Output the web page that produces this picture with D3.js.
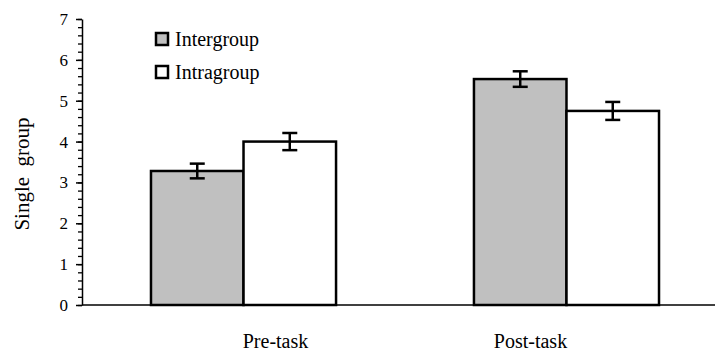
<!DOCTYPE html>
<html>
<head>
<meta charset="utf-8">
<script src="https://cdn.jsdelivr.net/npm/d3@7"></script>
<style>
  body { margin: 0; background: #fff; }
  svg text { font-family: "Liberation Serif", "Times New Roman", serif; fill: #000; }
</style>
</head>
<body>
<div id="chart"></div>
<script>
// data
const categories = ["Pre-task", "Post-task"];
const series = ["Intergroup", "Intragroup"];
const intergroup = [3.28, 5.53];
const intragroup = [4.0, 4.75];
const intergroupErr = [0.18, 0.19];
const intragroupErr = [0.21, 0.22];
const yTicks = [0, 1, 2, 3, 4, 5, 6, 7];

const seriesFill = {"Intergroup": "#c0c0c0", "Intragroup": "#ffffff"};

// set the dimensions
const width = 715, height = 353;
const margin = {top: 19, left: 82, bottom: 48};
const labelShift = [32, -36];   // category labels sit off centre in the original

const svg = d3.select("#chart")
  .append("svg")
    .attr("width", width)
    .attr("height", height);

const y = d3.scaleLinear()
  .domain([0, 7])
  .range([height - margin.bottom, margin.top]);

const x = d3.scaleBand()
  .domain(categories)
  .range([margin.left, 728])
  .paddingInner(0.427)
  .paddingOuter(0.2136);

const xSub = d3.scaleBand()
  .domain(series)
  .range([0, x.bandwidth()]);

const rows = [];
categories.forEach((c, i) => {
  rows.push({cat: c, s: "Intergroup", v: intergroup[i], e: intergroupErr[i]});
  rows.push({cat: c, s: "Intragroup", v: intragroup[i], e: intragroupErr[i]});
});

// bars
svg.selectAll(".bar")
  .data(rows)
  .join("rect")
    .attr("class", "bar")
    .attr("x", d => x(d.cat) + xSub(d.s))
    .attr("y", d => y(d.v))
    .attr("width", xSub.bandwidth())
    .attr("height", d => y(0) - y(d.v))
    .attr("fill", d => seriesFill[d.s])
    .attr("stroke", "#000")
    .attr("stroke-width", 2.5);

// error bars
const capW = 7.5;
const err = svg.selectAll(".err")
  .data(rows)
  .join("g")
    .attr("class", "err")
    .attr("transform", d => `translate(${x(d.cat) + xSub(d.s) + xSub.bandwidth() / 2},0)`)
    .attr("stroke", "#000")
    .attr("stroke-width", 2.5);
err.append("line")
  .attr("y1", d => y(d.v + d.e)).attr("y2", d => y(d.v - d.e));
err.append("line")
  .attr("x1", -capW).attr("x2", capW)
  .attr("y1", d => y(d.v + d.e)).attr("y2", d => y(d.v + d.e));
err.append("line")
  .attr("x1", -capW).attr("x2", capW)
  .attr("y1", d => y(d.v - d.e)).attr("y2", d => y(d.v - d.e));

// y axis: minor ticks then major ticks
const yMinor = d3.range(0, 7.001, 0.2);
svg.append("g")
  .attr("transform", `translate(${margin.left},0)`)
  .call(d3.axisLeft(y).tickValues(yMinor).tickSize(4).tickFormat(""))
  .call(g => g.select(".domain").remove())
  .selectAll("line").attr("stroke-width", 1.3);

const yAxis = svg.append("g")
  .attr("transform", `translate(${margin.left},0)`)
  .call(d3.axisLeft(y).tickValues(yTicks).tickFormat(d3.format("d"))
    .tickSize(6).tickPadding(8).tickSizeOuter(0))
  .attr("font-family", "Liberation Serif")
  .attr("font-size", 17);
yAxis.select(".domain").attr("stroke-width", 1.5);
yAxis.selectAll("line").attr("stroke-width", 1.5);

// x axis line
svg.append("line")
  .attr("x1", margin.left).attr("x2", x.range()[1])
  .attr("y1", y(0)).attr("y2", y(0))
  .attr("stroke", "#000")
  .attr("stroke-width", 1.5);

// category labels
svg.selectAll(".catLabel")
  .data(categories)
  .join("text")
    .attr("class", "catLabel")
    .attr("x", (d, i) => x(d) + x.bandwidth() / 2 + labelShift[i])
    .attr("y", 348)
    .attr("text-anchor", "middle")
    .attr("font-size", "20px")
    .text(d => d);

// y label
svg.append("text")
  .attr("transform", "translate(29,174) rotate(-90)")
  .attr("text-anchor", "middle")
  .attr("font-size", "21px")
  .text("Single\u00a0\u00a0group");

// legend
const legend = svg.selectAll(".legend")
  .data(series)
  .join("g")
    .attr("class", "legend")
    .attr("transform", (d, i) => `translate(156,${33 + i * 33})`);
legend.append("rect")
  .attr("width", 12).attr("height", 12)
  .attr("fill", d => seriesFill[d])
  .attr("stroke", "#000")
  .attr("stroke-width", 2.5);
legend.append("text")
  .attr("x", 19)
  .attr("y", 13)
  .attr("font-size", "20px")
  .text(d => d);
</script>
</body>
</html>
